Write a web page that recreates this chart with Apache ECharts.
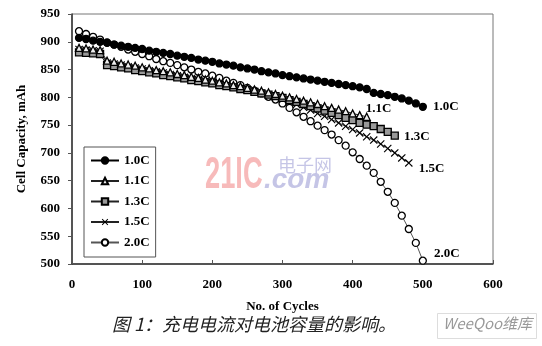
<!DOCTYPE html>
<html>
<head>
<meta charset="utf-8">
<script src="https://cdn.jsdelivr.net/npm/echarts@6/dist/echarts.min.js"></script>
<style>
  html, body { margin: 0; padding: 0; background: #fff; }
  #chart { width: 542px; height: 346px; }
</style>
</head>
<body>
<div id="chart"></div>
<script>
// Charge cycles at which capacity was measured
const cycles = [10,20,30,40,50,60,70,80,90,100,110,120,130,140,150,160,170,180,190,200,
  210,220,230,240,250,260,270,280,290,300,310,320,330,340,350,360,370,380,390,400,
  410,420,430,440,450,460,470,480,490,500];

// Cell capacity (mAh) per charge rate
const cap10 = [907,905,902,900,898,895,893,891,889,887,884,882,880,878,875,873,871,868,866,864,
  861,859,857,854,852,850,847,845,843,840,838,836,834,832,830,828,826,824,822,820,
  818,815,808,806,804,801,798,794,789,783];
const cap11 = [889,888,886,885,866,864,861,859,857,854,852,849,847,845,842,840,837,835,832,830,
  827,825,822,820,817,814,812,809,806,803,800,797,794,791,788,784,781,778,775,771,
  768,765];
const cap13 = [881,880,879,878,858,856,854,852,849,847,845,843,840,838,836,834,831,829,827,825,
  822,820,818,815,813,810,807,805,802,799,795,792,788,784,780,776,772,768,763,759,
  754,751,748,743,738,731];
const cap15 = [886,885,884,883,862,860,858,855,853,851,848,846,844,841,839,836,834,832,829,827,
  824,822,819,816,813,810,807,803,800,796,792,787,782,777,771,766,760,754,748,742,
  736,729,723,716,708,700,691,682];
const cap20 = [919,914,909,904,899,895,891,886,882,878,874,869,865,862,858,854,850,846,843,839,
  835,830,826,822,817,812,807,801,796,789,781,773,765,757,749,741,733,723,713,701,
  689,677,664,648,630,610,587,563,538,506];

const seriesNames = ['1.0C', '1.1C', '1.3C', '1.5C', '2.0C'];
const xTicks = [0, 100, 200, 300, 400, 500, 600];
const yTicks = [500, 550, 600, 650, 700, 750, 800, 850, 900, 950];

const serif = '"Liberation Serif", "Times New Roman", serif';
const crossPath = 'path://M0,1L1,0L5,4L9,0L10,1L6,5L10,9L9,10L5,6L1,10L0,9L4,5Z';

// marker look and end-label placement for each rate
const styles = [
  { symbol: 'circle', size: 7, fill: '#000', line: '#000', lab: [1, 0] },
  { symbol: 'triangle', size: 7, fill: '#eee', line: '#222', lab: [-10, -8] },
  { symbol: 'rect', size: 7, fill: '#999', line: '#222', lab: [0, 1] },
  { symbol: crossPath, size: 8, fill: '#000', line: '#222', lab: [1, 6] },
  { symbol: 'circle', size: 7, fill: '#fff', line: '#555', lab: [2, -7] }
];

const valueSets = [cap10, cap11, cap13, cap15, cap20];

function buildData(vals, st, name) {
  return vals.map((v, i) => {
    const item = { value: [cycles[i], v] };
    if (i === vals.length - 1) {
      item.label = {
        show: true,
        formatter: name,
        position: 'right',
        offset: st.lab,
        color: '#000',
        fontFamily: serif,
        fontWeight: 'bold',
        fontSize: 13
      };
    }
    return item;
  });
}

const series = seriesNames.map((name, k) => {
  const st = styles[k];
  const isCross = k === 3;
  return {
    name: name,
    type: 'line',
    data: buildData(valueSets[k], st, name),
    symbol: st.symbol,
    symbolSize: st.size,
    showAllSymbol: true,
    z: 10 - k,
    lineStyle: { color: st.line, width: 1 },
    itemStyle: {
      color: st.fill,
      borderColor: isCross ? st.fill : '#000',
      borderWidth: isCross ? 0 : 1.3
    },
    emphasis: { disabled: true },
    animation: false
  };
});

const chart = echarts.init(document.getElementById('chart'), null, { renderer: 'canvas' });

chart.setOption({
  backgroundColor: '#fff',
  animation: false,
  grid: {
    left: 72, top: 14, right: 49, bottom: 82,
    show: true, borderColor: '#777', borderWidth: 1, backgroundColor: 'transparent'
  },
  legend: {
    data: seriesNames,
    orient: 'vertical',
    left: 84, top: 147,
    itemWidth: 28, itemHeight: 8, itemGap: 7.5,
    padding: [7, 6, 8, 6],
    borderColor: '#555', borderWidth: 1,
    backgroundColor: '#fff',
    textStyle: { fontFamily: serif, fontWeight: 'bold', fontSize: 13, color: '#000' }
  },
  xAxis: {
    type: 'value',
    min: xTicks[0], max: xTicks[xTicks.length - 1], interval: 100,
    name: 'No. of Cycles',
    nameLocation: 'middle', nameGap: 36,
    nameTextStyle: { fontFamily: serif, fontWeight: 'bold', fontSize: 13, color: '#000' },
    axisLine: { lineStyle: { color: '#333', width: 1.5 } },
    axisTick: { inside: true, length: 4, lineStyle: { color: '#555' } },
    axisLabel: { margin: 14, fontFamily: serif, fontWeight: 'bold', fontSize: 13, color: '#000' },
    splitLine: { show: false }
  },
  yAxis: {
    type: 'value',
    min: yTicks[0], max: yTicks[yTicks.length - 1], interval: 50,
    name: 'Cell Capacity, mAh',
    nameLocation: 'middle', nameGap: 44,
    nameTextStyle: { fontFamily: serif, fontWeight: 'bold', fontSize: 13, color: '#000' },
    axisLine: { show: true, lineStyle: { color: '#333', width: 1.5 } },
    axisTick: { show: true, inside: false, length: 4, lineStyle: { color: '#555' } },
    axisLabel: { margin: 12, fontFamily: serif, fontWeight: 'bold', fontSize: 13, color: '#000' },
    splitLine: { show: false }
  },
  graphic: [
    { type: 'text', x: 205, y: 154, scaleX: 0.62, z: 1, silent: true,
      style: { text: '21IC', fontFamily: '"Liberation Sans", sans-serif',
               fontWeight: 'bold', fontSize: 44, fill: 'rgba(240,130,130,0.55)' } },
    { type: 'text', left: 278, top: 156, z: 1, silent: true,
      style: { text: '电子网', fontFamily: '"Noto Sans CJK SC", sans-serif',
               fontSize: 18, fill: 'rgba(150,150,210,0.55)' } },
    { type: 'text', left: 264, top: 166, z: 1, silent: true,
      style: { text: '.com', fontFamily: '"Liberation Sans", sans-serif', fontStyle: 'italic',
               fontWeight: 'bold', fontSize: 28, fill: 'rgba(150,150,210,0.55)' } },
    { type: 'text', left: 112, top: 315, silent: true,
      style: { text: '图 1：充电电流对电池容量的影响。', fontFamily: '"Noto Sans CJK SC", sans-serif',
               fontStyle: 'italic', fontSize: 18, fill: '#222' } },
    { type: 'rect', left: 437, top: 313, silent: true,
      shape: { width: 99, height: 25 },
      style: { fill: '#fff', stroke: '#ddd', lineWidth: 1 } },
    { type: 'text', left: 443, top: 316, silent: true,
      style: { text: 'WeeQoo维库', fontFamily: '"Noto Sans CJK SC", sans-serif',
               fontStyle: 'italic', fontSize: 15, fill: '#999' } }
  ],
  series: series
});
</script>
</body>
</html>
